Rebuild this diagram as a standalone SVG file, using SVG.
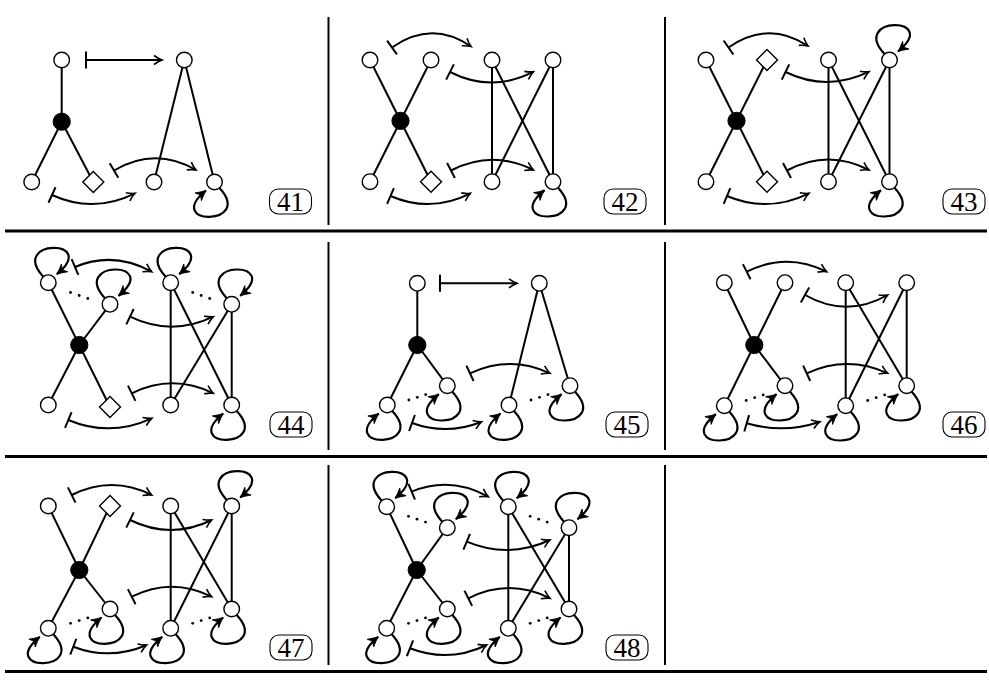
<svg xmlns="http://www.w3.org/2000/svg" width="989" height="682" viewBox="0 0 989 682">
<style>
.e{stroke:#000;stroke-width:2;fill:none}
.n{fill:#fff;stroke:#000;stroke-width:1.4}
.k{fill:#000;stroke:#000;stroke-width:1}
.a{stroke:#000;stroke-width:2;fill:none;marker-start:url(#bar);marker-end:url(#arr)}
.l{stroke:#000;stroke-width:2.2;fill:none;marker-end:url(#lar)}
.dt{fill:#000}
.fr{stroke:#000;fill:none}
.box{fill:none;stroke:#000;stroke-width:1.1}
.lab{font-family:"Liberation Serif","DejaVu Serif",serif;font-size:27px;text-anchor:middle;fill:#000}
</style>
<defs>
<marker id="bar" viewBox="-2 -10 4 20" markerUnits="userSpaceOnUse" markerWidth="4" markerHeight="20" refX="0" refY="0" orient="auto"><path d="M0,-8.5V8.5" stroke="#000" stroke-width="2"/></marker>
<marker id="arr" viewBox="-11 -6 13 12" markerUnits="userSpaceOnUse" markerWidth="13" markerHeight="12" refX="0" refY="0" orient="auto"><path d="M-8,-4.5 Q-3.5,-1.2 0,0 Q-3.5,1.2 -8,4.5" fill="none" stroke="#000" stroke-width="1.6"/></marker>
<marker id="lar" viewBox="-12 -6 14 12" markerUnits="userSpaceOnUse" markerWidth="14" markerHeight="12" refX="0" refY="0" orient="auto"><path d="M-10,-5 Q-4,-1.5 0,0 Q-4,1.5 -10,5 L-7,0 z" fill="#000" stroke="#000" stroke-width="0.8" stroke-linejoin="round"/></marker>
</defs>

<g id="frame" class="fr">
<line x1="5" y1="231" x2="987" y2="231" stroke-width="3"/>
<line x1="5" y1="456.5" x2="987" y2="456.5" stroke-width="3"/>
<line x1="5" y1="671.5" x2="987" y2="671.5" stroke-width="3"/>
<line x1="328.5" y1="17" x2="328.5" y2="225" stroke-width="2"/>
<line x1="665" y1="17" x2="665" y2="225" stroke-width="2"/>
<line x1="328.5" y1="242" x2="328.5" y2="450" stroke-width="2"/>
<line x1="665" y1="242" x2="665" y2="450" stroke-width="2"/>
<line x1="328.5" y1="465" x2="328.5" y2="665" stroke-width="2"/>
<line x1="665" y1="465" x2="665" y2="665" stroke-width="2"/>
</g>

<g id="connectors">
<!-- 41 -->
<line class="e" x1="61.7" y1="60" x2="61.7" y2="121.7"/>
<line class="e" x1="61.7" y1="121.7" x2="31.7" y2="182"/>
<line class="e" x1="61.7" y1="121.7" x2="93.3" y2="182"/>
<line class="e" x1="184.3" y1="60" x2="154" y2="182"/>
<line class="e" x1="184.3" y1="60" x2="214.5" y2="182"/>
<path class="a" d="M86,60 H162"/>
<path class="a" d="M114,170.5 Q155,146.4 196,170"/>
<path class="a" d="M52,195 Q93.5,213.9 135,193.3"/>
<path class="l" transform="translate(214.5,182)" d="M5,6 C40,44 -52,44 -8.5,8.5"/>
<!-- 42 -->
<line class="e" x1="370" y1="60" x2="431" y2="181.7"/>
<line class="e" x1="431" y1="60" x2="370" y2="181.7"/>
<line class="e" x1="492" y1="60" x2="492" y2="181.7"/>
<line class="e" x1="492" y1="60" x2="553" y2="181.7"/>
<line class="e" x1="553" y1="60" x2="492" y2="181.7"/>
<line class="e" x1="553" y1="60" x2="553" y2="181.7"/>
<path class="a" d="M392,47.5 Q431.5,19.6 471,46.5"/>
<path class="a" d="M450,72 Q491.8,93.2 533.5,71.7"/>
<path class="a" d="M451,170.5 Q492.3,149.4 533.5,170"/>
<path class="a" d="M390.5,196 Q430.5,213.4 470.5,193.3"/>
<path class="l" transform="translate(553,181.7)" d="M5,6 C40,44 -52,44 -8.5,8.5"/>
<!-- 43 -->
<line class="e" x1="706" y1="60" x2="767" y2="181.7"/>
<line class="e" x1="767" y1="60" x2="706" y2="181.7"/>
<line class="e" x1="828.5" y1="60" x2="828.5" y2="181.7"/>
<line class="e" x1="828.5" y1="60" x2="889.5" y2="181.7"/>
<line class="e" x1="889.5" y1="60" x2="828.5" y2="181.7"/>
<line class="e" x1="889.5" y1="60" x2="889.5" y2="181.7"/>
<path class="a" d="M728.5,47.5 Q768.3,19.9 808,46"/>
<path class="a" d="M785.5,72 Q827.3,92.2 869,71.7"/>
<path class="a" d="M787,170.5 Q828,148.8 869,170"/>
<path class="a" d="M727,196 Q768,213.4 809,193.3"/>
<path class="l" transform="translate(889.5,60)" d="M-5,-6 C-40,-44 52,-44 8.5,-8.5"/>
<path class="l" transform="translate(889.5,181.7)" d="M5,6 C40,44 -52,44 -8.5,8.5"/>
<!-- 44 -->
<line class="e" x1="48.3" y1="282.7" x2="110" y2="407"/>
<line class="e" x1="110" y1="304.3" x2="79.3" y2="345"/>
<line class="e" x1="79.3" y1="345" x2="48.3" y2="405"/>
<line class="e" x1="170.7" y1="282.7" x2="170.7" y2="405"/>
<line class="e" x1="170.7" y1="282.7" x2="231.7" y2="405"/>
<line class="e" x1="231.7" y1="304.3" x2="170.7" y2="405"/>
<line class="e" x1="231.7" y1="304.3" x2="231.7" y2="405"/>
<path class="a" d="M75,267 Q113.4,250.7 151.7,271.7"/>
<path class="a" d="M130,316.7 Q171.7,336.7 213.3,316.7"/>
<path class="a" d="M131.7,393.3 Q172.5,373.3 213.3,393.3"/>
<path class="a" d="M68.3,420 Q110,437.5 151.7,418.3"/>
<path class="l" transform="translate(48.3,282.7)" d="M-5,-6 C-40,-44 52,-44 8.5,-8.5"/>
<path class="l" transform="translate(110,304.3)" d="M-5,-6 C-40,-44 52,-44 8.5,-8.5"/>
<path class="l" transform="translate(170.7,282.7)" d="M-5,-6 C-40,-44 52,-44 8.5,-8.5"/>
<path class="l" transform="translate(231.7,304.3)" d="M-5,-6 C-40,-44 52,-44 8.5,-8.5"/>
<path class="l" transform="translate(231.7,405)" d="M5,6 C40,44 -52,44 -8.5,8.5"/>
<!-- 45 -->
<line class="e" x1="417.3" y1="283.3" x2="417.3" y2="345"/>
<line class="e" x1="417.3" y1="345" x2="387.3" y2="405"/>
<line class="e" x1="417.3" y1="345" x2="447.3" y2="385.7"/>
<line class="e" x1="539.3" y1="283.3" x2="509" y2="405"/>
<line class="e" x1="539.3" y1="283.3" x2="570" y2="385.7"/>
<path class="a" d="M440,283.3 H517"/>
<path class="a" d="M470,373.3 Q510,354.7 550,373.3"/>
<path class="a" d="M412,423 Q446.9,435.7 481.7,421.7"/>
<path class="l" transform="translate(387.3,405)" d="M5,6 C40,44 -52,44 -8.5,8.5"/>
<path class="l" transform="translate(447.3,385.7)" d="M5,6 C40,44 -52,44 -8.5,8.5"/>
<path class="l" transform="translate(509,405)" d="M5,6 C40,44 -52,44 -8.5,8.5"/>
<path class="l" transform="translate(570,385.7)" d="M5,6 C40,44 -52,44 -8.5,8.5"/>
<!-- 46 -->
<line class="e" x1="724.3" y1="282.7" x2="754.3" y2="345"/>
<line class="e" x1="754.3" y1="345" x2="785" y2="385.7"/>
<line class="e" x1="785" y1="282.7" x2="754.3" y2="345"/>
<line class="e" x1="754.3" y1="345" x2="724.3" y2="405.7"/>
<line class="e" x1="845.7" y1="282.7" x2="845.7" y2="405.7"/>
<line class="e" x1="845.7" y1="282.7" x2="906.7" y2="385.7"/>
<line class="e" x1="906.7" y1="282.7" x2="845.7" y2="405.7"/>
<line class="e" x1="906.7" y1="282.7" x2="906.7" y2="385.7"/>
<path class="a" d="M746.7,271.7 Q786.7,251.7 826.7,271.7"/>
<path class="a" d="M805,295 Q846.4,318.4 887.7,295"/>
<path class="a" d="M806.7,373.3 Q847.2,354.7 887.7,373.3"/>
<path class="a" d="M746.7,423.3 Q783.4,434.1 820,421.7"/>
<path class="l" transform="translate(724.3,405.7)" d="M5,6 C40,44 -52,44 -8.5,8.5"/>
<path class="l" transform="translate(785,385.7)" d="M5,6 C40,44 -52,44 -8.5,8.5"/>
<path class="l" transform="translate(845.7,405.7)" d="M5,6 C40,44 -52,44 -8.5,8.5"/>
<path class="l" transform="translate(906.7,385.7)" d="M5,6 C40,44 -52,44 -8.5,8.5"/>
<!-- 47 -->
<line class="e" x1="48.3" y1="506" x2="79.3" y2="570"/>
<line class="e" x1="79.3" y1="570" x2="110" y2="609"/>
<line class="e" x1="110" y1="506" x2="79.3" y2="570"/>
<line class="e" x1="79.3" y1="570" x2="48.3" y2="628.3"/>
<line class="e" x1="170.7" y1="506" x2="170.7" y2="628.3"/>
<line class="e" x1="170.7" y1="506" x2="231.7" y2="609"/>
<line class="e" x1="231.7" y1="506" x2="170.7" y2="628.3"/>
<line class="e" x1="231.7" y1="506" x2="231.7" y2="609"/>
<path class="a" d="M71.7,495 Q111.7,475 151.7,495"/>
<path class="a" d="M130,520 Q170.9,540 211.7,520"/>
<path class="a" d="M131.7,596.7 Q171.7,576.7 211.7,596.7"/>
<path class="a" d="M73.3,646.7 Q110,660.8 146.7,645"/>
<path class="l" transform="translate(231.7,506)" d="M-5,-6 C-40,-44 52,-44 8.5,-8.5"/>
<path class="l" transform="translate(48.3,628.3)" d="M5,6 C40,44 -52,44 -8.5,8.5"/>
<path class="l" transform="translate(110,609)" d="M5,6 C40,44 -52,44 -8.5,8.5"/>
<path class="l" transform="translate(170.7,628.3)" d="M5,6 C40,44 -52,44 -8.5,8.5"/>
<path class="l" transform="translate(231.7,609)" d="M5,6 C40,44 -52,44 -8.5,8.5"/>
<!-- 48 -->
<line class="e" x1="386.7" y1="506.7" x2="416.7" y2="570"/>
<line class="e" x1="416.7" y1="570" x2="447.3" y2="609"/>
<line class="e" x1="447.3" y1="527.7" x2="416.7" y2="570"/>
<line class="e" x1="416.7" y1="570" x2="386.7" y2="628.3"/>
<line class="e" x1="508.3" y1="506.7" x2="508.3" y2="628.3"/>
<line class="e" x1="508.3" y1="506.7" x2="569" y2="609"/>
<line class="e" x1="569" y1="527.7" x2="508.3" y2="628.3"/>
<line class="e" x1="569" y1="527.7" x2="569" y2="609"/>
<path class="a" d="M411.7,491.7 Q450,475.8 488.3,496.7"/>
<path class="a" d="M466.7,541.7 Q508.4,559.2 550,540"/>
<path class="a" d="M468.3,598.3 Q509.2,577.7 550,598.3"/>
<path class="a" d="M410,648.3 Q448.4,663.4 486.7,645"/>
<path class="l" transform="translate(386.7,506.7)" d="M-5,-6 C-40,-44 52,-44 8.5,-8.5"/>
<path class="l" transform="translate(447.3,527.7)" d="M-5,-6 C-40,-44 52,-44 8.5,-8.5"/>
<path class="l" transform="translate(508.3,506.7)" d="M-5,-6 C-40,-44 52,-44 8.5,-8.5"/>
<path class="l" transform="translate(569,527.7)" d="M-5,-6 C-40,-44 52,-44 8.5,-8.5"/>
<path class="l" transform="translate(386.7,628.3)" d="M5,6 C40,44 -52,44 -8.5,8.5"/>
<path class="l" transform="translate(447.3,609)" d="M5,6 C40,44 -52,44 -8.5,8.5"/>
<path class="l" transform="translate(508.3,628.3)" d="M5,6 C40,44 -52,44 -8.5,8.5"/>
<path class="l" transform="translate(569,609)" d="M5,6 C40,44 -52,44 -8.5,8.5"/>
</g>

<g id="dots" class="dt">
<circle cx="70.5" cy="292.5" r="1.4"/><circle cx="79.2" cy="295.5" r="1.4"/><circle cx="87.8" cy="298.5" r="1.4"/>
<circle cx="192.7" cy="292.5" r="1.4"/><circle cx="201.2" cy="295.5" r="1.4"/><circle cx="209.7" cy="298.5" r="1.4"/>
<circle cx="408.9" cy="400" r="1.4"/><circle cx="417.3" cy="397.3" r="1.4"/><circle cx="425.7" cy="394.6" r="1.4"/>
<circle cx="531" cy="400" r="1.4"/><circle cx="539.5" cy="397.3" r="1.4"/><circle cx="548" cy="394.6" r="1.4"/>
<circle cx="746.2" cy="400.5" r="1.4"/><circle cx="754.7" cy="397.7" r="1.4"/><circle cx="763.2" cy="394.9" r="1.4"/>
<circle cx="867.7" cy="400.5" r="1.4"/><circle cx="876.2" cy="397.7" r="1.4"/><circle cx="884.7" cy="394.9" r="1.4"/>
<circle cx="70.5" cy="623.3" r="1.4"/><circle cx="79.2" cy="620.6" r="1.4"/><circle cx="87.8" cy="617.9" r="1.4"/>
<circle cx="192.7" cy="623.3" r="1.4"/><circle cx="201.2" cy="620.6" r="1.4"/><circle cx="209.7" cy="617.9" r="1.4"/>
<circle cx="408.5" cy="516.3" r="1.4"/><circle cx="417" cy="519.2" r="1.4"/><circle cx="425.5" cy="522.1" r="1.4"/>
<circle cx="530.2" cy="516.3" r="1.4"/><circle cx="538.7" cy="519.2" r="1.4"/><circle cx="547.2" cy="522.1" r="1.4"/>
<circle cx="408.5" cy="623.3" r="1.4"/><circle cx="417" cy="620.6" r="1.4"/><circle cx="425.5" cy="617.9" r="1.4"/>
<circle cx="530.2" cy="623.3" r="1.4"/><circle cx="538.7" cy="620.6" r="1.4"/><circle cx="547.2" cy="617.9" r="1.4"/>
</g>

<!-- nodes 41 -->
<g id="n41a"><circle class="n" cx="61.7" cy="60" r="7.8"/></g>
<g id="n41b"><circle class="k" cx="61.7" cy="121.7" r="8.6"/></g>
<g id="n41c"><circle class="n" cx="31.7" cy="182" r="7.8"/></g>
<g id="n41d"><polygon class="n" points="93.3,171.5 103.8,182 93.3,192.5 82.8,182"/></g>
<g id="n41e"><circle class="n" cx="184.3" cy="60" r="7.8"/></g>
<g id="n41f"><circle class="n" cx="154" cy="182" r="7.8"/></g>
<g id="n41g"><circle class="n" cx="214.5" cy="182" r="7.8"/></g>
<g id="lab41"><rect class="box" x="269.5" y="189" width="42" height="25" rx="9"/><text class="lab" x="290.5" y="210.8">41</text></g>
<!-- nodes 42 -->
<g id="n42a"><circle class="n" cx="370" cy="60" r="7.8"/></g>
<g id="n42b"><circle class="n" cx="431" cy="60" r="7.8"/></g>
<g id="n42c"><circle class="k" cx="400.5" cy="120.85" r="8.6"/></g>
<g id="n42d"><circle class="n" cx="370" cy="181.7" r="7.8"/></g>
<g id="n42e"><polygon class="n" points="431,171.2 441.5,181.7 431,192.2 420.5,181.7"/></g>
<g id="n42f"><circle class="n" cx="492" cy="60" r="7.8"/></g>
<g id="n42g"><circle class="n" cx="553" cy="60" r="7.8"/></g>
<g id="n42h"><circle class="n" cx="492" cy="181.7" r="7.8"/></g>
<g id="n42i"><circle class="n" cx="553" cy="181.7" r="7.8"/></g>
<g id="lab42"><rect class="box" x="604" y="189" width="42" height="25" rx="9"/><text class="lab" x="625" y="210.8">42</text></g>
<!-- nodes 43 -->
<g id="n43a"><circle class="n" cx="706" cy="60" r="7.8"/></g>
<g id="n43b"><polygon class="n" points="767,49.5 777.5,60 767,70.5 756.5,60"/></g>
<g id="n43c"><circle class="k" cx="736.5" cy="120.85" r="8.6"/></g>
<g id="n43d"><circle class="n" cx="706" cy="181.7" r="7.8"/></g>
<g id="n43e"><polygon class="n" points="767,171.2 777.5,181.7 767,192.2 756.5,181.7"/></g>
<g id="n43f"><circle class="n" cx="828.5" cy="60" r="7.8"/></g>
<g id="n43g"><circle class="n" cx="889.5" cy="60" r="7.8"/></g>
<g id="n43h"><circle class="n" cx="828.5" cy="181.7" r="7.8"/></g>
<g id="n43i"><circle class="n" cx="889.5" cy="181.7" r="7.8"/></g>
<g id="lab43"><rect class="box" x="943" y="189" width="42" height="25" rx="9"/><text class="lab" x="964" y="210.8">43</text></g>
<!-- nodes 44 -->
<g id="n44a"><circle class="n" cx="48.3" cy="282.7" r="7.8"/></g>
<g id="n44b"><circle class="n" cx="110" cy="304.3" r="7.8"/></g>
<g id="n44c"><circle class="k" cx="79.3" cy="345" r="8.6"/></g>
<g id="n44d"><circle class="n" cx="48.3" cy="405" r="7.8"/></g>
<g id="n44e"><polygon class="n" points="110,396.5 120.5,407 110,417.5 99.5,407"/></g>
<g id="n44f"><circle class="n" cx="170.7" cy="282.7" r="7.8"/></g>
<g id="n44g"><circle class="n" cx="231.7" cy="304.3" r="7.8"/></g>
<g id="n44h"><circle class="n" cx="170.7" cy="405" r="7.8"/></g>
<g id="n44i"><circle class="n" cx="231.7" cy="405" r="7.8"/></g>
<g id="lab44"><rect class="box" x="270" y="412" width="42" height="25" rx="9"/><text class="lab" x="291" y="433.7">44</text></g>
<!-- nodes 45 -->
<g id="n45a"><circle class="n" cx="417.3" cy="283.3" r="7.8"/></g>
<g id="n45b"><circle class="k" cx="417.3" cy="345" r="8.6"/></g>
<g id="n45c"><circle class="n" cx="387.3" cy="405" r="7.8"/></g>
<g id="n45d"><circle class="n" cx="447.3" cy="385.7" r="7.8"/></g>
<g id="n45e"><circle class="n" cx="539.3" cy="283.3" r="7.8"/></g>
<g id="n45f"><circle class="n" cx="509" cy="405" r="7.8"/></g>
<g id="n45g"><circle class="n" cx="570" cy="385.7" r="7.8"/></g>
<g id="lab45"><rect class="box" x="606" y="412" width="42" height="25" rx="9"/><text class="lab" x="627" y="433.7">45</text></g>
<!-- nodes 46 -->
<g id="n46a"><circle class="n" cx="724.3" cy="282.7" r="7.8"/></g>
<g id="n46b"><circle class="n" cx="785" cy="282.7" r="7.8"/></g>
<g id="n46c"><circle class="k" cx="754.3" cy="345" r="8.6"/></g>
<g id="n46d"><circle class="n" cx="724.3" cy="405.7" r="7.8"/></g>
<g id="n46e"><circle class="n" cx="785" cy="385.7" r="7.8"/></g>
<g id="n46f"><circle class="n" cx="845.7" cy="282.7" r="7.8"/></g>
<g id="n46g"><circle class="n" cx="906.7" cy="282.7" r="7.8"/></g>
<g id="n46h"><circle class="n" cx="845.7" cy="405.7" r="7.8"/></g>
<g id="n46i"><circle class="n" cx="906.7" cy="385.7" r="7.8"/></g>
<g id="lab46"><rect class="box" x="943" y="412" width="42" height="25" rx="9"/><text class="lab" x="964" y="433.7">46</text></g>
<!-- nodes 47 -->
<g id="n47a"><circle class="n" cx="48.3" cy="506" r="7.8"/></g>
<g id="n47b"><polygon class="n" points="110,495.5 120.5,506 110,516.5 99.5,506"/></g>
<g id="n47c"><circle class="k" cx="79.3" cy="570" r="8.6"/></g>
<g id="n47d"><circle class="n" cx="48.3" cy="628.3" r="7.8"/></g>
<g id="n47e"><circle class="n" cx="110" cy="609" r="7.8"/></g>
<g id="n47f"><circle class="n" cx="170.7" cy="506" r="7.8"/></g>
<g id="n47g"><circle class="n" cx="231.7" cy="506" r="7.8"/></g>
<g id="n47h"><circle class="n" cx="170.7" cy="628.3" r="7.8"/></g>
<g id="n47i"><circle class="n" cx="231.7" cy="609" r="7.8"/></g>
<g id="lab47"><rect class="box" x="270" y="635" width="42" height="25" rx="9"/><text class="lab" x="291" y="656.7">47</text></g>
<!-- nodes 48 -->
<g id="n48a"><circle class="n" cx="386.7" cy="506.7" r="7.8"/></g>
<g id="n48b"><circle class="n" cx="447.3" cy="527.7" r="7.8"/></g>
<g id="n48c"><circle class="k" cx="416.7" cy="570" r="8.6"/></g>
<g id="n48d"><circle class="n" cx="386.7" cy="628.3" r="7.8"/></g>
<g id="n48e"><circle class="n" cx="447.3" cy="609" r="7.8"/></g>
<g id="n48f"><circle class="n" cx="508.3" cy="506.7" r="7.8"/></g>
<g id="n48g"><circle class="n" cx="569" cy="527.7" r="7.8"/></g>
<g id="n48h"><circle class="n" cx="508.3" cy="628.3" r="7.8"/></g>
<g id="n48i"><circle class="n" cx="569" cy="609" r="7.8"/></g>
<g id="lab48"><rect class="box" x="606" y="635" width="42" height="25" rx="9"/><text class="lab" x="627" y="656.7">48</text></g>
</svg>
